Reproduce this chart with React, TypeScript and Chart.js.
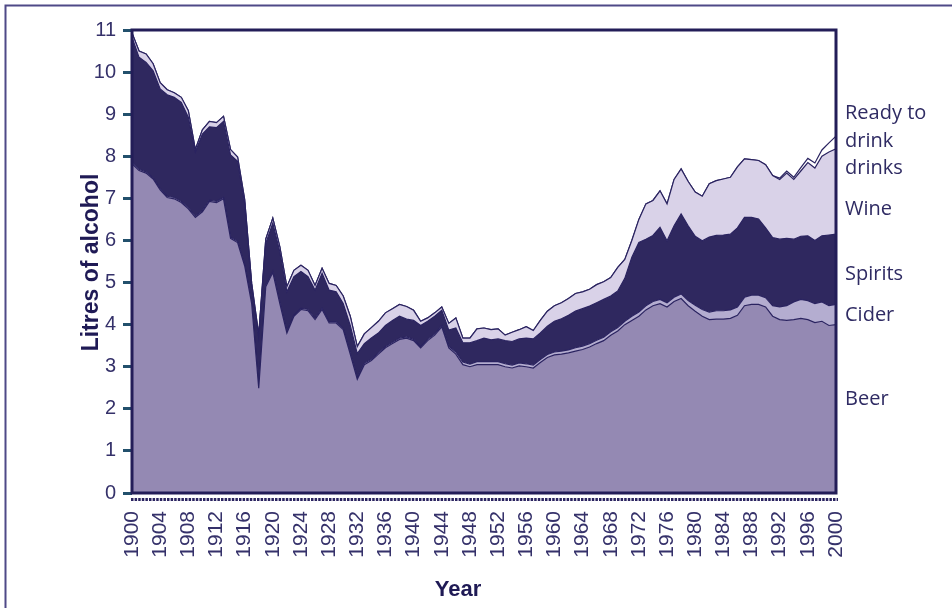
import React, { useEffect, useRef } from "react";
import { Chart, registerables } from "chart.js";

Chart.register(...registerables);

// ---- Data (litres of pure alcohol per head, UK, 1900-2000) ----
const YEARS: string[] = Array.from({ length: 101 }, (_, i) => String(1900 + i));

const BEER: number[] = [
  7.82, 7.66, 7.60, 7.46, 7.20, 7.02, 6.99, 6.90, 6.75, 6.55,
  6.68, 6.93, 6.90, 6.99, 6.05, 5.95, 5.40, 4.50, 2.49, 4.90,
  5.24, 4.50, 3.80, 4.20, 4.36, 4.33, 4.12, 4.36, 4.04, 4.04,
  3.88, 3.30, 2.70, 3.05, 3.15, 3.30, 3.45, 3.55, 3.65, 3.68,
  3.62, 3.45, 3.62, 3.75, 3.95, 3.45, 3.30, 3.05, 3.00, 3.05,
  3.05, 3.05, 3.05, 3.00, 2.97, 3.02, 3.00, 2.97, 3.10, 3.22,
  3.28, 3.30, 3.33, 3.37, 3.41, 3.47, 3.55, 3.62, 3.75, 3.85,
  4.00, 4.10, 4.20, 4.35, 4.45, 4.50, 4.42, 4.55, 4.62, 4.45,
  4.32, 4.20, 4.12, 4.13, 4.13, 4.15, 4.22, 4.45, 4.48, 4.48,
  4.42, 4.20, 4.12, 4.10, 4.12, 4.15, 4.12, 4.05, 4.08, 3.98,
  4.00,
];

const CIDER: number[] = [
  0.03, 0.03, 0.03, 0.03, 0.03, 0.03, 0.03, 0.03, 0.03, 0.03,
  0.03, 0.03, 0.03, 0.03, 0.03, 0.03, 0.03, 0.03, 0.03, 0.03,
  0.03, 0.03, 0.03, 0.03, 0.03, 0.03, 0.03, 0.03, 0.03, 0.03,
  0.03, 0.03, 0.03, 0.03, 0.03, 0.03, 0.03, 0.03, 0.03, 0.03,
  0.03, 0.03, 0.03, 0.03, 0.03, 0.04, 0.05, 0.06, 0.06, 0.07,
  0.07, 0.07, 0.07, 0.07, 0.07, 0.07, 0.07, 0.07, 0.07, 0.07,
  0.07, 0.07, 0.07, 0.08, 0.08, 0.08, 0.08, 0.08, 0.08, 0.08,
  0.08, 0.10, 0.10, 0.10, 0.10, 0.10, 0.10, 0.10, 0.11, 0.12,
  0.14, 0.16, 0.18, 0.20, 0.20, 0.20, 0.20, 0.20, 0.22, 0.22,
  0.22, 0.25, 0.30, 0.35, 0.42, 0.45, 0.45, 0.45, 0.46, 0.47,
  0.48,
];

const SPIRITS: number[] = [
  2.98, 2.66, 2.60, 2.54, 2.37, 2.41, 2.38, 2.35, 2.15, 1.52,
  1.82, 1.74, 1.75, 1.81, 1.95, 1.90, 1.45, 0.35, 1.18, 1.00,
  1.14, 1.20, 0.95, 0.91, 0.87, 0.78, 0.67, 0.83, 0.75, 0.71,
  0.59, 0.65, 0.58, 0.47, 0.50, 0.47, 0.50, 0.52, 0.52, 0.42,
  0.45, 0.50, 0.43, 0.42, 0.36, 0.38, 0.57, 0.46, 0.51, 0.50,
  0.56, 0.52, 0.54, 0.55, 0.56, 0.57, 0.61, 0.62, 0.63, 0.67,
  0.73, 0.77, 0.82, 0.87, 0.89, 0.89, 0.89, 0.90, 0.85, 0.87,
  1.02, 1.40, 1.65, 1.58, 1.57, 1.71, 1.47, 1.70, 1.90, 1.78,
  1.64, 1.63, 1.78, 1.79, 1.80, 1.80, 1.88, 1.90, 1.85, 1.81,
  1.66, 1.62, 1.61, 1.60, 1.49, 1.50, 1.54, 1.50, 1.57, 1.68,
  1.67,
];

const WINE: number[] = [
  0.10, 0.15, 0.20, 0.17, 0.15, 0.12, 0.11, 0.12, 0.15, 0.06,
  0.10, 0.13, 0.12, 0.12, 0.13, 0.10, 0.10, 0.10, 0.06, 0.10,
  0.12, 0.12, 0.12, 0.15, 0.15, 0.15, 0.11, 0.12, 0.16, 0.15,
  0.18, 0.22, 0.17, 0.23, 0.25, 0.28, 0.30, 0.28, 0.28, 0.30,
  0.24, 0.10, 0.08, 0.08, 0.08, 0.16, 0.24, 0.11, 0.11, 0.28,
  0.24, 0.24, 0.24, 0.13, 0.22, 0.22, 0.27, 0.20, 0.30, 0.36,
  0.37, 0.38, 0.40, 0.42, 0.40, 0.40, 0.43, 0.42, 0.44, 0.56,
  0.45, 0.40, 0.55, 0.84, 0.83, 0.87, 0.88, 1.10, 1.07, 1.05,
  1.05, 1.06, 1.27, 1.30, 1.33, 1.35, 1.45, 1.39, 1.37, 1.39,
  1.50, 1.47, 1.42, 1.55, 1.42, 1.55, 1.74, 1.72, 1.89, 1.97,
  2.03,
];

const RTD: number[] = [
  0, 0, 0, 0, 0, 0, 0, 0, 0, 0,
  0, 0, 0, 0, 0, 0, 0, 0, 0, 0,
  0, 0, 0, 0, 0, 0, 0, 0, 0, 0,
  0, 0, 0, 0, 0, 0, 0, 0, 0, 0,
  0, 0, 0, 0, 0, 0, 0, 0, 0, 0,
  0, 0, 0, 0, 0, 0, 0, 0, 0, 0,
  0, 0, 0, 0, 0, 0, 0, 0, 0, 0,
  0, 0, 0, 0, 0, 0, 0, 0, 0, 0,
  0, 0, 0, 0, 0, 0, 0, 0, 0, 0,
  0, 0, 0.03, 0.05, 0.05, 0.08, 0.10, 0.12, 0.15, 0.22,
  0.30,
];

const SERIES_NAMES = ["Beer", "Cider", "Spirits", "Wine", "Ready to drink drinks"];
const SIDE_LABELS = ["Ready to", "drink", "drinks", "Wine", "Spirits", "Cider", "Beer"];
const Y_TITLE = "Litres of alcohol";
const X_TITLE = "Year";

// ---- Styles ----
const LINE = "#2a2360";
const FILLS = ["#9489b3", "#b4add0", "#2f285f", "#d9d2e8", "#ffffff"];
const TEXT = "#35316a";
const DARK = "#1f1a55";
const SANS = '"Liberation Sans", Arial, Helvetica, sans-serif';
const SIDE_BASELINES = [119, 146.5, 173.5, 215, 279.5, 320.5, 405];

const decoPlugin = {
  id: "deco",
  beforeDraw(chart: any) {
    const ctx = chart.ctx;
    ctx.save();
    ctx.fillStyle = "#ffffff";
    ctx.fillRect(0, 0, chart.width, chart.height);
    ctx.strokeStyle = "#4f4987";
    ctx.lineWidth = 2;
    ctx.beginPath();
    ctx.moveTo(5.5, chart.height);
    ctx.lineTo(5.5, 5.5);
    ctx.lineTo(chart.width, 5.5);
    ctx.stroke();
    ctx.restore();
  },
  afterDatasetsDraw(chart: any) {
    const ctx = chart.ctx;
    const a = chart.chartArea;
    ctx.save();
    // plot frame
    ctx.strokeStyle = "#231d58";
    ctx.lineWidth = 3;
    ctx.strokeRect(a.left, a.top, a.right - a.left, a.bottom - a.top);
    // dotted axis line under the plot
    ctx.setLineDash([2.5, 1.1]);
    ctx.lineWidth = 3;
    ctx.strokeStyle = LINE;
    ctx.beginPath();
    ctx.moveTo(a.left - 1, a.bottom + 6.5);
    ctx.lineTo(a.right + 2, a.bottom + 6.5);
    ctx.stroke();
    ctx.setLineDash([]);
    ctx.restore();
  },
  afterDraw(chart: any) {
    const ctx = chart.ctx;
    const a = chart.chartArea;
    ctx.save();
    // y title
    ctx.fillStyle = DARK;
    ctx.font = `bold 23px ${SANS}`;
    ctx.textAlign = "center";
    ctx.textBaseline = "alphabetic";
    ctx.translate(98, (a.top + a.bottom) / 2 + 1);
    ctx.rotate(-Math.PI / 2);
    ctx.fillText(Y_TITLE, 0, 0);
    ctx.restore();

    ctx.save();
    ctx.fillStyle = DARK;
    ctx.font = `bold 22px ${SANS}`;
    ctx.textAlign = "center";
    ctx.textBaseline = "alphabetic";
    ctx.fillText(X_TITLE, 458, 596);

    // side labels
    ctx.fillStyle = "#2f2b63";
    ctx.font = `20px "Open Sans", "Noto Sans", sans-serif`;
    ctx.textAlign = "left";
    SIDE_LABELS.forEach((t, i) => {
      ctx.fillText(t, a.right + 9, SIDE_BASELINES[i]);
    });
    ctx.restore();
  },
};

export default function App() {
  const ref = useRef<HTMLCanvasElement | null>(null);

  useEffect(() => {
    if (!ref.current) return;
    const series = [BEER, CIDER, SPIRITS, WINE, RTD];
    const chart = new Chart(ref.current, {
      type: "line",
      data: {
        labels: YEARS,
        datasets: series.map((d, i) => ({
          label: SERIES_NAMES[i],
          data: d,
          backgroundColor: FILLS[i],
          borderColor: LINE,
          borderWidth: 1.2,
          pointRadius: 0,
          tension: 0,
          fill: i === 0 ? "origin" : "-1",
        })),
      },
      options: {
        responsive: false,
        devicePixelRatio: 1,
        animation: false,
        events: [],
        layout: { padding: { left: 0, top: 30, right: 116, bottom: 0 } },
        plugins: {
          legend: { display: false },
          tooltip: { enabled: false },
          title: { display: false },
        },
        scales: {
          x: {
            type: "category",
            offset: false,
            grid: { display: false, drawTicks: false },
            border: { display: false },
            ticks: {
              autoSkip: false,
              maxRotation: 90,
              minRotation: 90,
              padding: 18,
              color: TEXT,
              font: { family: SANS, size: 21 },
              callback: (_v: any, i: number) => (i % 4 === 0 ? YEARS[i] : ""),
            },
            afterFit: (s: any) => {
              s.height = 115;
            },
          },
          y: {
            stacked: true,
            min: 0,
            max: 11,
            grid: {
              display: true,
              drawOnChartArea: false,
              drawTicks: true,
              tickLength: 9,
              tickWidth: 3,
              tickColor: "#22506c",
            },
            border: { display: false },
            ticks: {
              stepSize: 1,
              padding: 7,
              color: TEXT,
              font: { family: SANS, size: 20 },
            },
            afterFit: (s: any) => {
              s.width = 132;
            },
          },
        },
      },
      plugins: [decoPlugin],
    } as any);
    return () => chart.destroy();
  }, []);

  return (
    <div style={{ position: "fixed", left: 0, top: 0, width: 952, height: 608, background: "#fff" }}>
      <canvas ref={ref} width={952} height={608} style={{ display: "block", width: 952, height: 608 }} />
    </div>
  );
}
